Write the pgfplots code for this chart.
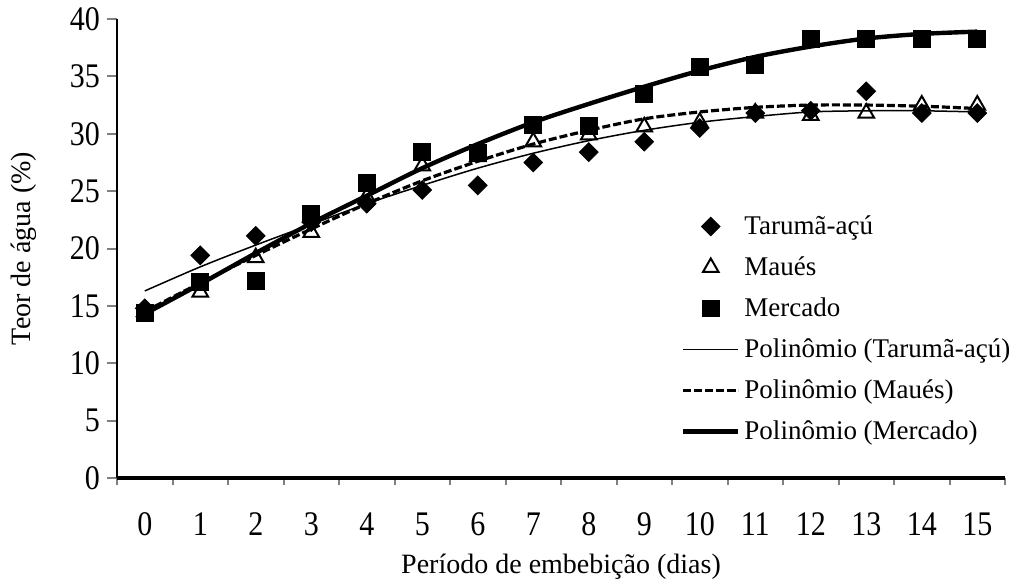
\documentclass[border=0pt]{standalone}
\usepackage{pgfplots}
\pgfplotsset{compat=1.18}
\usepackage{fontspec}
\setmainfont{Liberation Serif}

% Teor de agua medido (pontos)
\pgfplotstableread{
x y
0 14.8
1 19.4
2 21.1
3 22.3
4 23.9
5 25.1
6 25.5
7 27.5
8 28.4
9 29.3
10 30.5
11 31.8
12 32.0
13 33.7
14 31.8
15 31.8
}\tarumadata
\pgfplotstableread{
x y
0 14.5
1 16.2
2 19.2
3 21.4
4 24.5
5 27.2
6 28.0
7 29.3
8 29.9
9 30.6
10 31.0
11 31.8
12 31.6
13 31.8
14 32.5
15 32.5
}\mauesdata
\pgfplotstableread{
x y
0 14.4
1 17.1
2 17.2
3 23.0
4 25.7
5 28.4
6 28.3
7 30.8
8 30.7
9 33.5
10 35.8
11 36.0
12 38.3
13 38.3
14 38.3
15 38.3
}\mercadodata

% linhas de tendencia
\pgfplotstableread{
x y
0 16.3
1 18.4
2 20.3
3 22.1
4 23.9
5 25.5
6 27.0
7 28.3
8 29.4
9 30.3
10 31.0
11 31.5
12 31.9
13 32.0
14 32.0
15 31.9
}\tarumafit
\pgfplotstableread{
x y
0 14.5
1 17.0
2 19.4
3 21.7
4 23.9
5 25.9
6 27.6
7 29.1
8 30.3
9 31.3
10 31.9
11 32.3
12 32.5
13 32.5
14 32.4
15 32.2
}\mauesfit
\pgfplotstableread{
x y
0 14.3
1 16.9
2 19.6
3 22.2
4 24.6
5 27.0
6 29.1
7 31.0
8 32.6
9 34.1
10 35.5
11 36.7
12 37.6
13 38.3
14 38.7
15 38.9
}\mercadofit

\begin{document}
\begin{tikzpicture}
\begin{axis}[
    scale only axis,
    width=444pt, height=229.5pt,
    xmin=-0.5, xmax=15.5,
    ymin=0, ymax=40,
    axis lines*=left,
    x axis line style={line width=2pt},
    y axis line style={line width=1pt},
    xtick={0,...,15},
    major x tick style={draw=none},
    minor xtick={-0.5,0.5,...,15.5},
    minor x tick style={line width=1pt},
    ytick={0,5,...,40},
    y tick style={line width=1pt},
    tick align=outside,
    major tick length=5pt,
    minor tick length=3.5pt,
    /pgf/number format/assume math mode=true,
    ticklabel style={font=\fontsize{15}{18}\selectfont, yscale=1.15},
    xticklabel style={yshift=-7pt, text height=10pt, text depth=0pt},
    xlabel={Período de embebição (dias)},
    ylabel={Teor de água (\%)},
    label style={font=\fontsize{14}{17}\selectfont},
    xlabel style={yshift=-2pt},
    ylabel style={yshift=10pt},
    legend cell align=left,
    legend style={draw=none, fill=none, at={(0.628,0.59)}, anchor=north west,
        font=\fontsize{13.5}{16}\selectfont, row sep=5.6pt},
    legend image code/.code={
        \draw[mark repeat=2, mark phase=2, #1]
            plot coordinates {(0pt,0pt) (13.75pt,0pt) (27.5pt,0pt)};},
]
\addplot[only marks, mark=square*, mark size=3.3pt, mark options={rotate=45, fill=black, draw=black}] table {\tarumadata};
\addlegendentry{Tarumã-açú}
\addplot[only marks, mark=triangle, mark size=4.5pt, mark options={line width=1pt, fill=white, draw=black}] table {\mauesdata};
\addlegendentry{Maués}
\addplot[only marks, mark=square*, mark size=4.2pt, mark options={fill=black, draw=black}] table {\mercadodata};
\addlegendentry{Mercado}
\addplot[black, line width=0.75pt, smooth, no marks] table {\tarumafit};
\addlegendentry{Polinômio (Tarumã-açú)}
\addplot[black, line width=1.6pt, dash pattern=on 4pt off 1.5pt, smooth, no marks] table {\mauesfit};
\addlegendentry{Polinômio (Maués)}
\addplot[black, line width=2.2pt, smooth, no marks] table {\mercadofit};
\addlegendentry{Polinômio (Mercado)}
\end{axis}
\pgfresetboundingbox
\path[use as bounding box] ([shift={(-58.5pt,-50.5pt)}]current axis.south west) rectangle ([shift={(2pt,9.5pt)}]current axis.north east);
\end{tikzpicture}
\end{document}
